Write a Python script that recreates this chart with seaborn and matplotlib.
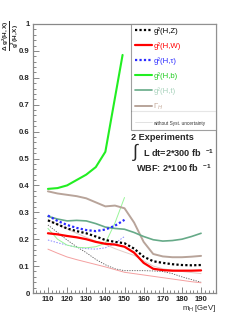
import matplotlib
matplotlib.use("Agg")
import matplotlib.pyplot as plt
from matplotlib.lines import Line2D
from matplotlib.ticker import MultipleLocator, FuncFormatter
import seaborn as sns
import pandas as pd

# ---------------- data ----------------
mass = [110, 115, 120, 125, 130, 135, 140, 145, 150, 155, 160, 165, 170, 175, 180, 185, 190]
mass_low = [110, 115, 120, 125, 130, 135, 140, 145, 150]
mass_b = [110, 115, 120, 125, 130, 135, 140, 145, 149]

gZ = [0.270, 0.255, 0.240, 0.230, 0.222, 0.210, 0.197, 0.190, 0.185, 0.165, 0.135, 0.118, 0.112, 0.107, 0.104, 0.103, 0.104]
gW = [0.222, 0.218, 0.212, 0.207, 0.200, 0.190, 0.183, 0.180, 0.172, 0.150, 0.112, 0.090, 0.085, 0.083, 0.083, 0.083, 0.084]
gtau = [0.288, 0.268, 0.253, 0.242, 0.234, 0.230, 0.236, 0.250, 0.272]
gb = [0.387, 0.390, 0.400, 0.420, 0.440, 0.468, 0.525, 0.725, 0.885]
gt = [0.285, 0.275, 0.268, 0.270, 0.268, 0.258, 0.245, 0.240, 0.237, 0.225, 0.210, 0.198, 0.193, 0.195, 0.200, 0.210, 0.222]
GamH = [0.378, 0.370, 0.365, 0.360, 0.352, 0.337, 0.322, 0.325, 0.315, 0.262, 0.190, 0.145, 0.136, 0.133, 0.133, 0.135, 0.138]

# without systematic uncertainty
gZ_ns = [0.253, 0.225, 0.197, 0.172, 0.150, 0.125, 0.105, 0.090, 0.083, 0.083, 0.083, 0.082, 0.080, 0.072, 0.060, 0.050, 0.040]
gW_ns = [0.163, 0.148, 0.134, 0.124, 0.115, 0.106, 0.097, 0.087, 0.077, 0.072, 0.067, 0.062, 0.057, 0.052, 0.047, 0.042, 0.038]
gtau_ns = [0.197, 0.187, 0.178, 0.170, 0.165, 0.163, 0.168, 0.185, 0.210]
gb_ns = [0.240, 0.200, 0.178, 0.170, 0.168, 0.172, 0.185, 0.260, 0.355]
GamH_ns = [0.272, 0.255, 0.238, 0.222, 0.207, 0.193, 0.180, 0.165, 0.152, 0.140, 0.120, 0.100, 0.090, 0.085, 0.080, 0.076, 0.072]

labels = ["g²(H,Z)", "g²(H,W)", "g²(H,τ)", "g²(H,b)", "g²(H,t)", r"$\Gamma_{H}$"]
extra_label = "without Syst. uncertainty"
yticks = [0, 0.1, 0.2, 0.3, 0.4, 0.5, 0.6, 0.7, 0.8, 0.9, 1.0]
xticks = [110, 120, 130, 140, 150, 160, 170, 180, 190]

# ---------------- style ----------------
sns.set_style("ticks")
plt.rcParams["font.family"] = ["Liberation Sans", "DejaVu Sans"]
plt.rcParams["mathtext.fontset"] = "custom"
plt.rcParams["mathtext.rm"] = "Liberation Sans"
plt.rcParams["mathtext.it"] = "Liberation Sans:italic"
plt.rcParams["mathtext.bf"] = "Liberation Sans:bold"

fig = plt.figure(figsize=(2.46, 3.18), dpi=100)
ax = fig.add_axes([33 / 246, 25 / 318, 183 / 246, 269 / 318])

C_Z, C_W, C_TAU, C_B, C_T, C_G = "#000000", "#ff0000", "#2a2aff", "#22ee22", "#66aa88", "#b8a49a"

dot = (0, (1, 1))

# thin (no syst) lines
sns.lineplot(x=mass, y=gZ_ns, ax=ax, color="#555555", lw=0.6, linestyle=(0, (1.5, 1.5)), legend=False)
sns.lineplot(x=mass, y=gW_ns, ax=ax, color="#f4a0a0", lw=0.7, legend=False)
sns.lineplot(x=mass_low, y=gtau_ns, ax=ax, color="#8888ff", lw=0.7, linestyle=(0, (1.5, 1.5)), legend=False)
sns.lineplot(x=mass_low, y=gb_ns, ax=ax, color="#99f599", lw=0.7, legend=False)
sns.lineplot(x=mass, y=GamH_ns, ax=ax, color="#e2ccc6", lw=0.7, legend=False)

# thick lines
sns.lineplot(x=mass, y=GamH, ax=ax, color=C_G, lw=1.4, label=labels[5], legend=False)
sns.lineplot(x=mass, y=gt, ax=ax, color=C_T, lw=1.2, label=labels[4], legend=False)
sns.lineplot(x=mass_b, y=gb, ax=ax, color=C_B, lw=1.5, label=labels[3], legend=False)
sns.lineplot(x=mass_low, y=gtau, ax=ax, color=C_TAU, lw=1.6, linestyle=dot, label=labels[2], legend=False)
sns.lineplot(x=mass, y=gW, ax=ax, color=C_W, lw=1.6, label=labels[1], legend=False)
sns.lineplot(x=mass, y=gZ, ax=ax, color=C_Z, lw=1.6, linestyle=dot, label=labels[0], legend=False)

ax.set_xlim(102.2, 197.8)
ax.set_ylim(0, 1)
ax.set_xlabel("")
ax.set_ylabel("")

for s in ax.spines.values():
    s.set_color("#888888")
    s.set_linewidth(0.9)

ax.set_yticks(yticks)
ax.yaxis.set_minor_locator(MultipleLocator(0.02))
ax.set_xticks(xticks)
ax.xaxis.set_minor_locator(MultipleLocator(2))
ax.yaxis.set_major_formatter(FuncFormatter(lambda v, p: "0" if v == 0 else ("1" if v == 1 else f"{v:.1f}")))
ax.tick_params(which="both", direction="in", color="#888888", width=0.7, top=False, right=False)
ax.tick_params(which="major", length=4, labelsize=5.6, pad=2.5)
ax.tick_params(which="minor", length=2)
for t in ax.get_xticklabels() + ax.get_yticklabels():
    t.set_fontweight("bold")

# legend
handles = {h.get_label(): h for h in ax.get_lines() if not h.get_label().startswith("_")}
hs = [handles[l] for l in labels]
hs.append(Line2D([], [], color="#dddddd", lw=0.6))
leg = ax.legend(hs, labels + [extra_label], loc="upper left",
                bbox_to_anchor=(98 / 183, 0.0, 85 / 183, 1.0), mode="expand",
                borderaxespad=0, fontsize=5.6, labelspacing=0.93, handlelength=2.2,
                handletextpad=0.2, borderpad=0.45, fancybox=False, frameon=True)
leg.get_frame().set_edgecolor("#888888")
leg.get_frame().set_linewidth(0.8)
txt_colors = [C_Z, C_W, C_TAU, "#22cc22", "#a8d2bc", "#c4a898", "#333333"]
for t, c in zip(leg.get_texts(), txt_colors):
    t.set_color(c)
leg.get_texts()[-1].set_fontsize(3.4)

sep = Line2D([98 / 183, 1.0], [(293 - 111) / 269] * 2, transform=ax.transAxes,
             color="#888888", lw=0.8, clip_on=False)
ax.add_line(sep)

# annotations
ax.text(98 / 183, (293 - 137) / 269, "2 Experiments", transform=ax.transAxes,
        fontsize=6.6, fontweight="bold", ha="left", va="center")
ax.text(99 / 183, (293 - 152) / 269, r"$\int$", transform=ax.transAxes,
        fontsize=13, ha="left", va="center")
ax.text(110 / 183, (293 - 153) / 269, r"L dt=2*300 fb  $^{\mathbf{-1}}$", transform=ax.transAxes,
        fontsize=6.6, fontweight="bold", ha="left", va="center")
ax.text(103 / 183, (293 - 168) / 269, r"WBF: 2*100 fb  $^{\mathbf{-1}}$", transform=ax.transAxes,
        fontsize=6.6, fontweight="bold", ha="left", va="center")

fig.text(0.042, 0.888, r"$\mathbf{\frac{\Delta\ g^2(H,X)}{g^2(H,X)}}$", rotation=90,
         fontsize=6.5, ha="center", va="center")
fig.text(216 / 246, (318 - 308) / 318, r"m$_{\rm H}$ [GeV]", fontsize=5.6,
         ha="right", va="center")

fig.savefig("out.png", dpi=100)
